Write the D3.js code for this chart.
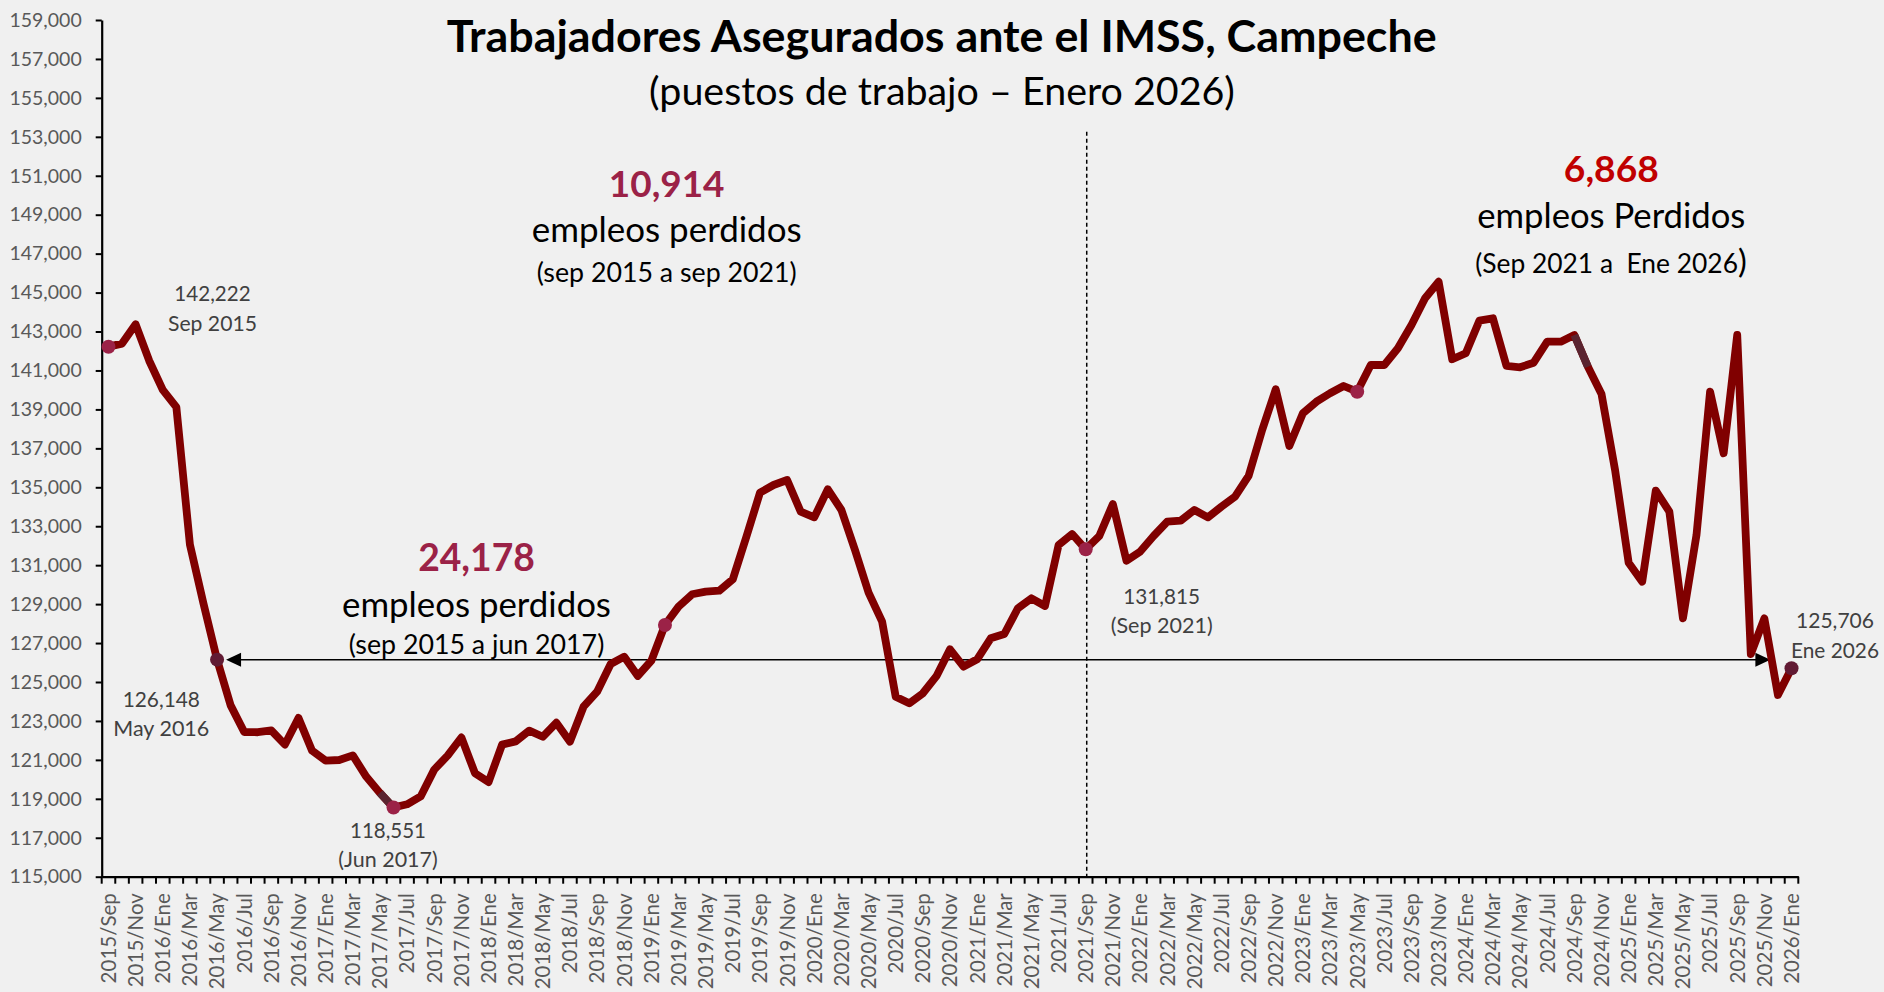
<!DOCTYPE html>
<html><head><meta charset="utf-8">
<script src="https://cdn.jsdelivr.net/npm/d3@7"></script>
<style>
html,body{margin:0;padding:0;background:#F0F0F0;}
svg{display:block;}
text{font-family:Lato,"Open Sans",sans-serif;}
</style></head><body>
<svg id="chart" width="1884" height="992"></svg>
<script>
// ---------- DATA ----------
const categories = [
"2015/Sep","2015/Oct","2015/Nov","2015/Dic",
"2016/Ene","2016/Feb","2016/Mar","2016/Abr","2016/May","2016/Jun","2016/Jul","2016/Ago","2016/Sep","2016/Oct","2016/Nov","2016/Dic",
"2017/Ene","2017/Feb","2017/Mar","2017/Abr","2017/May","2017/Jun","2017/Jul","2017/Ago","2017/Sep","2017/Oct","2017/Nov","2017/Dic",
"2018/Ene","2018/Feb","2018/Mar","2018/Abr","2018/May","2018/Jun","2018/Jul","2018/Ago","2018/Sep","2018/Oct","2018/Nov","2018/Dic",
"2019/Ene","2019/Feb","2019/Mar","2019/Abr","2019/May","2019/Jun","2019/Jul","2019/Ago","2019/Sep","2019/Oct","2019/Nov","2019/Dic",
"2020/Ene","2020/Feb","2020/Mar","2020/Abr","2020/May","2020/Jun","2020/Jul","2020/Ago","2020/Sep","2020/Oct","2020/Nov","2020/Dic",
"2021/Ene","2021/Feb","2021/Mar","2021/Abr","2021/May","2021/Jun","2021/Jul","2021/Ago","2021/Sep","2021/Oct","2021/Nov","2021/Dic",
"2022/Ene","2022/Feb","2022/Mar","2022/Abr","2022/May","2022/Jun","2022/Jul","2022/Ago","2022/Sep","2022/Oct","2022/Nov","2022/Dic",
"2023/Ene","2023/Feb","2023/Mar","2023/Abr","2023/May","2023/Jun","2023/Jul","2023/Ago","2023/Sep","2023/Oct","2023/Nov","2023/Dic",
"2024/Ene","2024/Feb","2024/Mar","2024/Abr","2024/May","2024/Jun","2024/Jul","2024/Ago","2024/Sep","2024/Oct","2024/Nov","2024/Dic",
"2025/Ene","2025/Feb","2025/Mar","2025/Abr","2025/May","2025/Jun","2025/Jul","2025/Ago","2025/Sep","2025/Oct","2025/Nov","2025/Dic",
"2026/Ene"];

const trabajadores = [
142222,142380,143372,141500,
140000,139120,132060,129030,126148,123800,122430,122420,122510,121785,123156,121471,
120958,120994,121230,120131,119304,118551,118720,119124,120500,121230,122150,120316,
119858,121785,121950,122500,122190,122910,121935,123730,124500,125925,126300,125310,
126094,127928,128870,129505,129640,129690,130275,132463,134723,135118,135375,133747,
133458,134897,133834,131780,129587,128097,124245,123906,124420,125300,126680,125786,
126166,127245,127466,128785,129299,128903,132036,132600,131815,132500,134140,131230,
131693,132500,133233,133285,133834,133458,134005,134518,135581,137943,140033,137125,
138800,139397,139828,140203,139910,141281,141281,142137,143335,144707,145560,141575,
141883,143556,143679,141230,141162,141399,142478,142478,142822,141195,139792,135889,
131128,130152,134826,133747,128271,132550,139910,136746,142822,126438,128271,124331,
125706];

const yTicks = [115000,117000,119000,121000,123000,125000,127000,129000,131000,133000,135000,137000,139000,141000,143000,145000,147000,149000,151000,153000,155000,157000,159000];

// highlighted points
const markCats = ["2015/Sep","2016/May","2017/Jun","2019/Feb","2021/Sep","2023/May","2026/Ene"];
const markDark = ["2016/May","2026/Ene"];
// darker line segments (start category)
const darkSegStart = ["2017/May","2024/Sep"];

// point labels
const pointLabels = [
  {cat:"2015/Sep", l1:"142,222", l2:"Sep 2015"},
  {cat:"2016/May", l1:"126,148", l2:"May 2016"},
  {cat:"2017/Jun", l1:"118,551", l2:"(Jun 2017)"},
  {cat:"2021/Sep", l1:"131,815", l2:"(Sep 2021)"},
  {cat:"2026/Ene", l1:"125,706", l2:"Ene 2026"}
];

// ---------- CHART ----------
const svg = d3.select("#chart");
const X0 = 101.7, X1 = 1798.3, YT = 20, YB = 876.7;
const x = d3.scaleBand().domain(categories).range([X0, X1]).paddingInner(0).paddingOuter(0);
const y = d3.scaleLinear().domain([115000,159000]).range([YB, YT]);
const cx = c => x(c) + x.bandwidth()/2;
const LINE = "#800000", CRIMSON = "#9B2247", DARK = "#611A33", REDNUM = "#C00000";

svg.append("rect").attr("width",1884).attr("height",992).attr("fill","#F0F0F0");

function fit(sel, w){
  const fs = +sel.attr("font-size");
  const len = sel.node().getComputedTextLength();
  if (len>0) sel.attr("font-size", (fs*w/len).toFixed(2));
  return sel;
}

// Y axis
const yAxis = svg.append("g").attr("transform",`translate(${X0},0)`)
  .call(d3.axisLeft(y).tickValues(yTicks).tickSize(6).tickSizeOuter(0).tickPadding(14).tickFormat(d3.format(",")));
yAxis.select(".domain").attr("stroke","#000").attr("stroke-width",2.2);
yAxis.selectAll(".tick line").attr("stroke","#000").attr("stroke-width",2);
yAxis.selectAll(".tick text").attr("font-size",19.5).attr("fill","#595959").attr("font-family","Lato");

// X axis
const xAxis = svg.append("g").attr("transform",`translate(0,${YB})`)
  .call(d3.axisBottom(x).tickValues(categories.filter((d,i)=>i%2===0)).tickSize(0).tickSizeOuter(0));
xAxis.select(".domain").attr("stroke","#000").attr("stroke-width",2.2);
xAxis.selectAll(".tick text")
  .attr("font-size",20.5).attr("fill","#595959").attr("font-family","Lato")
  .attr("transform","rotate(-90)")
  .attr("text-anchor","end")
  .attr("x",-16.5).attr("y",0).attr("dy","0.36em");
// boundary ticks
const bounds = categories.map(c=>x(c)).concat([X1]);
svg.append("g").selectAll("line").data(bounds).join("line")
  .attr("x1",d=>d).attr("x2",d=>d).attr("y1",YB).attr("y2",YB+7)
  .attr("stroke","#000").attr("stroke-width",2);

// dashed vertical at Sep 2021
const vx = cx("2021/Sep")+1;
svg.append("line").attr("x1",vx).attr("x2",vx).attr("y1",131.7).attr("y2",YB)
  .attr("stroke","#000").attr("stroke-width",1.5).attr("stroke-dasharray","4,3");

// horizontal double arrow at May 2016 level
const ay = y(trabajadores[categories.indexOf("2016/May")]);
const axL = cx("2016/May")+9, axR = cx("2025/Nov")+6;
svg.append("line").attr("x1",axL+14).attr("x2",axR-14).attr("y1",ay).attr("y2",ay)
  .attr("stroke","#000").attr("stroke-width",1.5);
svg.append("path").attr("d",`M${axL},${ay} L${axL+15},${ay-7} L${axL+15},${ay+7} Z`).attr("fill","#000");
svg.append("path").attr("d",`M${axR},${ay} L${axR-15},${ay-7} L${axR-15},${ay+7} Z`).attr("fill","#000");

// main line
const pts = categories.map((c,i)=>({c, v:trabajadores[i]}));
const line = d3.line().x(d=>cx(d.c)).y(d=>y(d.v));
svg.append("path").datum(pts).attr("d",line)
  .attr("fill","none").attr("stroke",LINE).attr("stroke-width",7.8)
  .attr("stroke-linejoin","round").attr("stroke-linecap","round");
// darker segments
darkSegStart.forEach(c=>{
  const i = categories.indexOf(c);
  svg.append("path").datum([pts[i],pts[i+1]]).attr("d",line)
    .attr("fill","none").attr("stroke","#5A2430").attr("stroke-width",7.8);
});
// markers
svg.append("g").selectAll("circle").data(markCats).join("circle")
  .attr("cx",d=>cx(d)).attr("cy",d=>y(trabajadores[categories.indexOf(d)]))
  .attr("r",7).attr("fill",d=>markDark.includes(d)?DARK:CRIMSON);

// point labels (centre x, baselines, widths)
const plPos = {
  "2015/Sep":{x:212.5,b1:300.7,b2:330.5,w1:76.3,w2:89},
  "2016/May":{x:161.3,b1:706.7,b2:736,w1:77.3,w2:96},
  "2017/Jun":{x:388,b1:837.5,b2:867,w1:76,w2:99.6},
  "2021/Sep":{x:1161.7,b1:604,b2:632.7,w1:76.7,w2:102},
  "2026/Ene":{x:1835,b1:628.3,b2:658.3,w1:78,w2:88}
};
pointLabels.forEach(p=>{
  const q = plPos[p.cat];
  fit(svg.append("text").attr("x",q.x).attr("y",q.b1).attr("text-anchor","middle")
    .attr("font-size",20).attr("fill","#404040").text(p.l1), q.w1);
  fit(svg.append("text").attr("x",q.x).attr("y",q.b2).attr("text-anchor","middle")
    .attr("font-size",20).attr("fill","#404040").text(p.l2), q.w2);
});

// Titles
fit(svg.append("text").attr("x",941.7).attr("y",52).attr("text-anchor","middle")
  .attr("font-size",40).attr("font-weight","bold").attr("fill","#000")
  .text("Trabajadores Asegurados ante el IMSS, Campeche"), 990);
fit(svg.append("text").attr("x",942).attr("y",104.5).attr("text-anchor","middle")
  .attr("font-size",32).attr("fill","#000")
  .text("(puestos de trabajo – Enero 2026)"), 586);

// Annotation blocks
function block(cxp, items){
  items.forEach(it=>{
    const t = svg.append("text").attr("x",cxp).attr("y",it.b).attr("text-anchor","middle")
      .attr("font-size",it.fs).attr("fill",it.color||"#000")
      .attr("font-weight",it.bold?"bold":"normal").text(it.t);
    fit(t, it.w);
  });
}
block(666.7, [
  {t:"10,914", b:197, w:115.7, fs:36, bold:true, color:CRIMSON},
  {t:"empleos perdidos", b:242, w:270, fs:30},
  {t:"(sep 2015 a sep 2021)", b:281.5, w:260, fs:24}
]);
block(476.5, [
  {t:"24,178", b:570.7, w:116.7, fs:36, bold:true, color:CRIMSON},
  {t:"empleos perdidos", b:616.7, w:269, fs:30},
  {t:"(sep 2015 a jun 2017)", b:654, w:255.7, fs:24}
]);
block(1611.3, [
  {t:"6,868", b:182, w:95, fs:36, bold:true, color:REDNUM},
  {t:"empleos Perdidos", b:228.3, w:268.3, fs:30}
]);
// last sub-line with larger closing parenthesis
const t3 = svg.append("text").attr("x",1611).attr("y",272.7).attr("text-anchor","middle")
  .attr("font-size",24).attr("fill","#000");
t3.append("tspan").text("(Sep 2021 a\u00A0 Ene 2026");
t3.append("tspan").attr("font-size",30).text(")");
(function(){
  const len = t3.node().getComputedTextLength();
  const k = 271.7/len;
  t3.attr("font-size",(24*k).toFixed(2));
  t3.select("tspan:last-child").attr("font-size",(30*k).toFixed(2));
})();
</script>
</body></html>
